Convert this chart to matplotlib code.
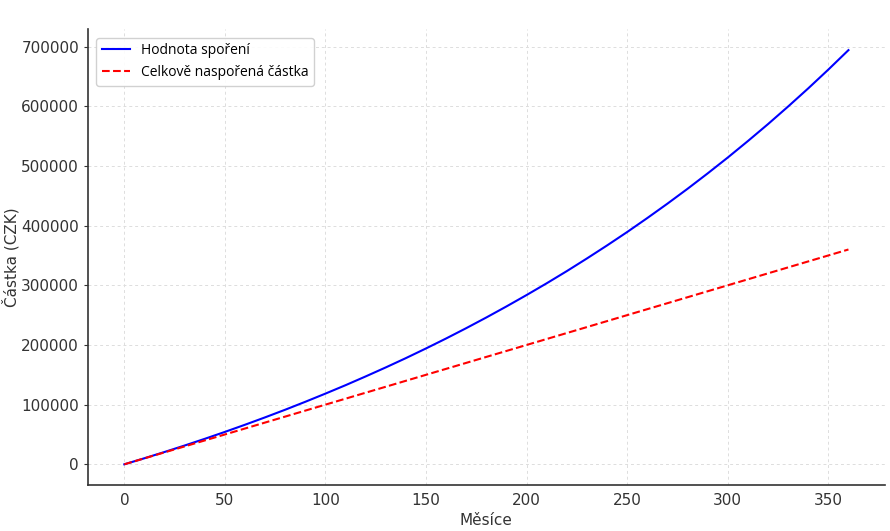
import matplotlib
matplotlib.use('Agg')
import matplotlib.pyplot as plt

# ============ Dataset ============
months = [0, 10, 20, 30, 40, 50, 60, 70, 80, 90, 100, 110, 120, 130, 140, 150, 160, 170, 180,
          190, 200, 210, 220, 230, 240, 250, 260, 270, 280, 290, 300, 310, 320, 330, 340, 350, 360]
savings_value = [0, 10150, 20650, 31500, 42700, 54300, 66300, 78700, 91500, 104800, 118500,
                 132600, 147300, 162400, 178000, 194200, 210900, 228200, 246100, 264600, 283700,
                 303400, 323800, 345000, 366800, 389300, 412700, 436800, 461700, 487500, 514100,
                 541700, 570100, 599600, 630000, 661500, 694100]
total_deposited = [0, 10000, 20000, 30000, 40000, 50000, 60000, 70000, 80000, 90000, 100000,
                   110000, 120000, 130000, 140000, 150000, 160000, 170000, 180000, 190000, 200000,
                   210000, 220000, 230000, 240000, 250000, 260000, 270000, 280000, 290000, 300000,
                   310000, 320000, 330000, 340000, 350000, 360000]

plt.rcParams['font.family'] = 'DejaVu Sans'

fig = plt.figure(figsize=(8.9, 5.31), dpi=100)
ax = fig.add_axes([0.099, 0.0866, 0.895, 0.858])

ax.plot(months, savings_value, color='blue', linewidth=1.5, label='Hodnota spoření')
ax.plot(months, total_deposited, color='red', linestyle='--', linewidth=1.5,
        label='Celkově naspořená částka')

# ============ Axis Labels ============
ax.set_xlabel('Měsíce', fontsize=11, color='#333333', labelpad=3)
ax.set_ylabel('Částka (CZK)', fontsize=11, color='#333333', labelpad=1)
ax.tick_params(axis='both', labelsize=11, colors='#333333', length=3)
ax.tick_params(axis='x', length=0, pad=6)

# ============ Style & Layout ============
ax.grid(True, linestyle=(0, (3, 3)), color='#dddddd', linewidth=0.7)
for side in ['top', 'right']:
    ax.spines[side].set_visible(False)
for side in ['left', 'bottom']:
    ax.spines[side].set_color('#333333')
    ax.spines[side].set_linewidth(1.2)

ax.legend(loc='upper left', prop={'family': 'Open Sans', 'size': 10},
          frameon=True, fancybox=True, framealpha=0.9, borderaxespad=0.6)

fig.savefig('out.png', dpi=100)
